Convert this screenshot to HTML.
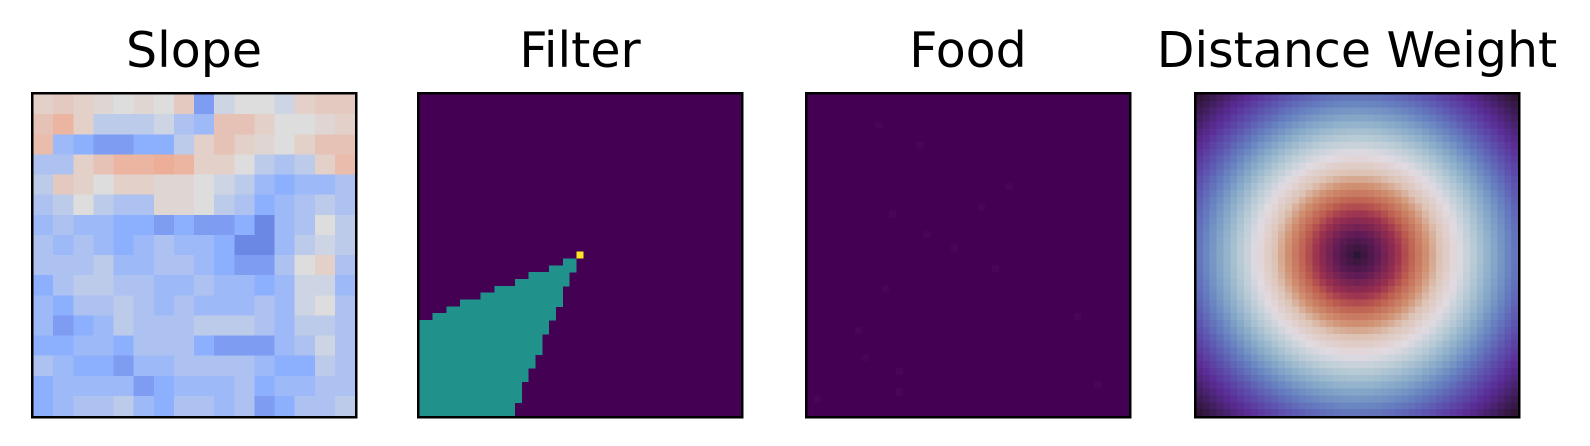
<!DOCTYPE html>
<html><head><meta charset="utf-8"><style>
html,body{margin:0;padding:0;background:#fff;}
svg{display:block;}
text{font-family:"DejaVu Sans","Liberation Sans",sans-serif;}
</style></head><body>
<svg id="fig" width="1590" height="446" viewBox="0 0 1590 446" shape-rendering="crispEdges"></svg>
<script>
// ---- data ----
const panelTitles = ["Slope","Filter","Food","Distance Weight"];
// Slope: coarse 16x16 grid of coolwarm values (-1..1)
const slopeRows = [
[0.1,0.15,0.1,0.05,0,0.05,0,0.15,-0.6,-0.1,0,0,-0.1,0.1,0.15,0.15],
[0.2,0.3,0.1,-0.2,-0.2,-0.2,-0.1,-0.3,-0.4,0.2,0.2,0.1,0,0,0.05,0.1],
[0.25,-0.4,-0.5,-0.6,-0.6,-0.5,-0.5,-0.2,0.1,0.2,0.1,0.05,0,0.1,0.2,0.2],
[-0.3,-0.3,0.1,0.2,0.3,0.3,0.35,0.3,0.1,0.1,0,-0.2,-0.3,-0.2,0.1,0.25],
[-0.2,0.15,0.1,0,0.1,0.1,0.05,0.05,0,-0.1,-0.2,-0.4,-0.5,-0.4,-0.4,-0.3],
[-0.3,-0.2,0,-0.2,-0.3,-0.3,0.05,0.05,0,-0.2,-0.3,-0.5,-0.4,-0.3,-0.2,-0.3],
[-0.4,-0.3,-0.4,-0.4,-0.5,-0.5,-0.6,-0.5,-0.6,-0.6,-0.5,-0.7,-0.4,-0.3,0,-0.2],
[-0.3,-0.4,-0.3,-0.4,-0.5,-0.4,-0.3,-0.4,-0.4,-0.5,-0.7,-0.7,-0.4,-0.2,-0.1,-0.2],
[-0.3,-0.3,-0.3,-0.2,-0.4,-0.4,-0.3,-0.3,-0.4,-0.5,-0.6,-0.6,-0.3,0,0.1,-0.3],
[-0.5,-0.3,-0.2,-0.2,-0.3,-0.3,-0.4,-0.4,-0.3,-0.4,-0.4,-0.5,-0.4,-0.1,-0.1,-0.4],
[-0.4,-0.5,-0.3,-0.3,-0.2,-0.3,-0.4,-0.3,-0.4,-0.4,-0.4,-0.3,-0.4,-0.1,0,-0.3],
[-0.4,-0.6,-0.5,-0.4,-0.2,-0.3,-0.3,-0.3,-0.2,-0.2,-0.2,-0.3,-0.4,-0.2,-0.2,-0.3],
[-0.5,-0.5,-0.4,-0.4,-0.5,-0.3,-0.3,-0.3,-0.5,-0.6,-0.6,-0.6,-0.4,-0.3,-0.1,-0.3],
[-0.3,-0.4,-0.5,-0.5,-0.6,-0.4,-0.4,-0.3,-0.3,-0.3,-0.3,-0.4,-0.5,-0.5,-0.2,-0.3],
[-0.5,-0.4,-0.4,-0.4,-0.4,-0.6,-0.5,-0.4,-0.4,-0.4,-0.3,-0.5,-0.4,-0.4,-0.3,-0.3],
[-0.5,-0.4,-0.3,-0.3,-0.2,-0.4,-0.5,-0.3,-0.3,-0.4,-0.3,-0.6,-0.5,-0.3,-0.3,-0.2]
];
// Filter: 47x47 grid; per row [row, startCol, endCol(excl)] of the teal region
const filterSpans = [[24,21,23],[25,19,23],[26,16,22],[27,14,22],[28,11,21],[29,9,21],[30,6,21],[31,4,20],[32,2,20],
[33,0,19],[34,0,19],[35,0,18],[36,0,18],[37,0,18],[38,0,17],[39,0,17],[40,0,16],[41,0,16],[42,0,15],[43,0,15],[44,0,15],[45,0,14],[46,0,14]];
const filterAgent = [23,23]; // [row, col]
// Food: faint food cells [row, col]
const foodCells = [[4,10],[7,16],[13,29],[17,12],[16,25],[20,17],[22,21],[25,27],[28,11],[32,39],[34,7],[38,8],[40,13],[44,1],[43,13],[42,42]];
// Distance weight colormap stops (normalized distance -> colour)
const distStops = [0,0.09,0.18,0.24,0.31,0.37,0.45,0.52,0.61,0.69,0.77,0.86,1.0];
const distColors = ["#2c1436","#5e1a55","#9a3050","#bf6050","#d09070","#ddc3b5","#e2dbe2","#b9ccd6","#86a9c8","#6680c0","#5d55b0","#5a2c95","#2f1436"];

// ---- layout ----
const NS="http://www.w3.org/2000/svg";
const svg=document.getElementById('fig');
const panelX=[33,419,807,1196], panelY=94, panelS=322, N=47;
function mk(tag,attrs,parent){const e=document.createElementNS(NS,tag);for(const k in attrs)e.setAttribute(k,attrs[k]);(parent||svg).appendChild(e);return e;}
function hex(c){return [parseInt(c.slice(1,3),16),parseInt(c.slice(3,5),16),parseInt(c.slice(5,7),16)];}
function lerpStops(v,stops,cols){if(v<=stops[0])return cols[0];for(let i=1;i<stops.length;i++){if(v<=stops[i]){const t=(v-stops[i-1])/(stops[i]-stops[i-1]);const a=hex(cols[i-1]),b=hex(cols[i]);return `rgb(${a.map((x,j)=>Math.round(x+(b[j]-x)*t)).join(',')})`;}}return cols[cols.length-1];}
const cwStops=[-1,-0.5,0,0.5,1], cwCols=["#3b4cc0","#8db0fe","#dddddd","#f49a7b","#b40426"];
function cellX(p,c,n){return panelX[p]+c*panelS/n;}
function cellY(r,n){return panelY+r*panelS/n;}

// titles
panelTitles.forEach((t,i)=>{
  const el=mk('text',{x:panelX[i]+panelS/2,y:67,'font-size':49,'text-anchor':'middle',fill:'#000'});
  el.textContent=t;
  
  
});

// Slope
const gS=mk('g',{});


const nS=slopeRows.length;
slopeRows.forEach((row,r)=>row.forEach((v,c)=>{
  const x0=cellX(0,c,row.length), y0=cellY(r,nS);
  const cell=mk('rect',{x:x0,y:y0,width:panelS/row.length+0.6,height:panelS/nS+0.6,fill:lerpStops(v,cwStops,cwCols)},gS);
  
  
}));

// Filter
const gF=mk('g',{});


mk('rect',{x:panelX[1],y:panelY,width:panelS,height:panelS,fill:'#440154'},gF);
filterSpans.forEach(([r,a,b])=>{
  const s=mk('rect',{x:cellX(1,a,N),y:cellY(r,N),width:(b-a)*panelS/N,height:panelS/N+0.5,fill:'#21918c'},gF);
  
  
});
const ag=mk('rect',{x:cellX(1,filterAgent[1],N),y:cellY(filterAgent[0],N),width:panelS/N,height:panelS/N,fill:'#fde725'},gF);



// Food
const gD=mk('g',{});


mk('rect',{x:panelX[2],y:panelY,width:panelS,height:panelS,fill:'#440154'},gD);
foodCells.forEach(([r,c])=>{
  const f=mk('rect',{x:cellX(2,c,N),y:cellY(r,N),width:panelS/N,height:panelS/N,fill:'#47065a'},gD);
  
  
});

// Distance weight
const gW=mk('g',{});


const cc=(N-1)/2, dmax=Math.sqrt(2)*cc;
for(let r=0;r<N;r++)for(let c=0;c<N;c++){
  const d=Math.hypot(r-cc,c-cc)/dmax;
  mk('rect',{x:cellX(3,c,N),y:cellY(r,N),width:panelS/N+0.6,height:panelS/N+0.6,fill:lerpStops(d,distStops,distColors)},gW);
}

// frames
panelX.forEach((x,i)=>{
  const f=mk('rect',{x:x-1,y:panelY-1,width:panelS+2,height:panelS+2,fill:'none',stroke:'#000','stroke-width':2.5});
  
  
});
</script>
</body></html>
